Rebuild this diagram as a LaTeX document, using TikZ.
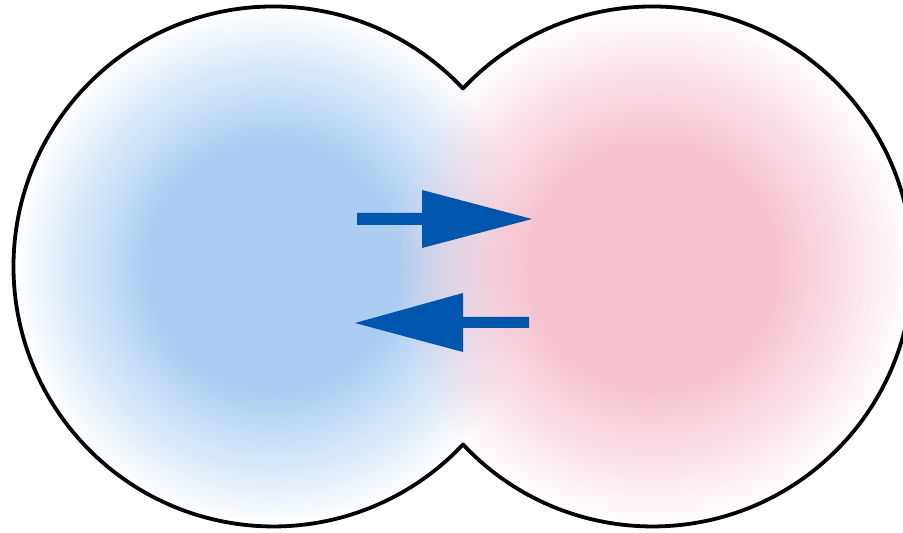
\documentclass[tikz,border=0pt]{standalone}
\usepackage{xcolor}
\usepackage{tikz}
\usetikzlibrary{fadings}

\definecolor{cellblue}{RGB}{170,205,241}
\definecolor{cellpink}{RGB}{245,195,208}
\definecolor{arrowblue}{RGB}{0,86,172}

% soft radial edge: opaque core, transparent rim
\pgfdeclareradialshading{softedgeshade}{\pgfpointorigin}{color(0bp)=(white); color(12bp)=(white); color(25bp)=(black); color(50bp)=(black)}
\pgfdeclarefading{softedge}{\pgfuseshading{softedgeshade}}

\tikzset{
  outline/.style={line width=3.8pt, black, line join=round},
  pump/.style={fill=arrowblue, draw=none}
}

\begin{document}
\begin{tikzpicture}[x=1pt, y=1pt]
    \useasboundingbox (0,0) rectangle (903,533);
    \clip (0,0) rectangle (903,533);

    % Cell centres and the two notches
    \coordinate (lc) at (273.5,266.5);
    \coordinate (rc) at (652.5,266.5);
    \coordinate (ntop) at (463,444.5);
    \coordinate (nbot) at (463,88.5);

    % Left cell (blue) and right cell (pink)
    \fill[cellblue, path fading=softedge] (lc) circle[radius=260];
    \fill[cellpink, path fading=softedge] (rc) circle[radius=260];

    % Outer boundary
    \draw[outline] (ntop) arc[start angle=43.2, end angle=316.8, radius=260]
        arc[start angle=-136.8, end angle=136.8, radius=260] -- cycle;

    % Exchange arrows
    \fill[pump] (357,320) -- (422,320) -- (422,343) -- (532,314) -- (422,285)
        -- (422,308) -- (357,308) -- cycle;
    \fill[pump] (529,216) -- (463,216) -- (463,240) -- (355,210) -- (463,181)
        -- (463,205) -- (529,205) -- cycle;
\end{tikzpicture}
\end{document}
